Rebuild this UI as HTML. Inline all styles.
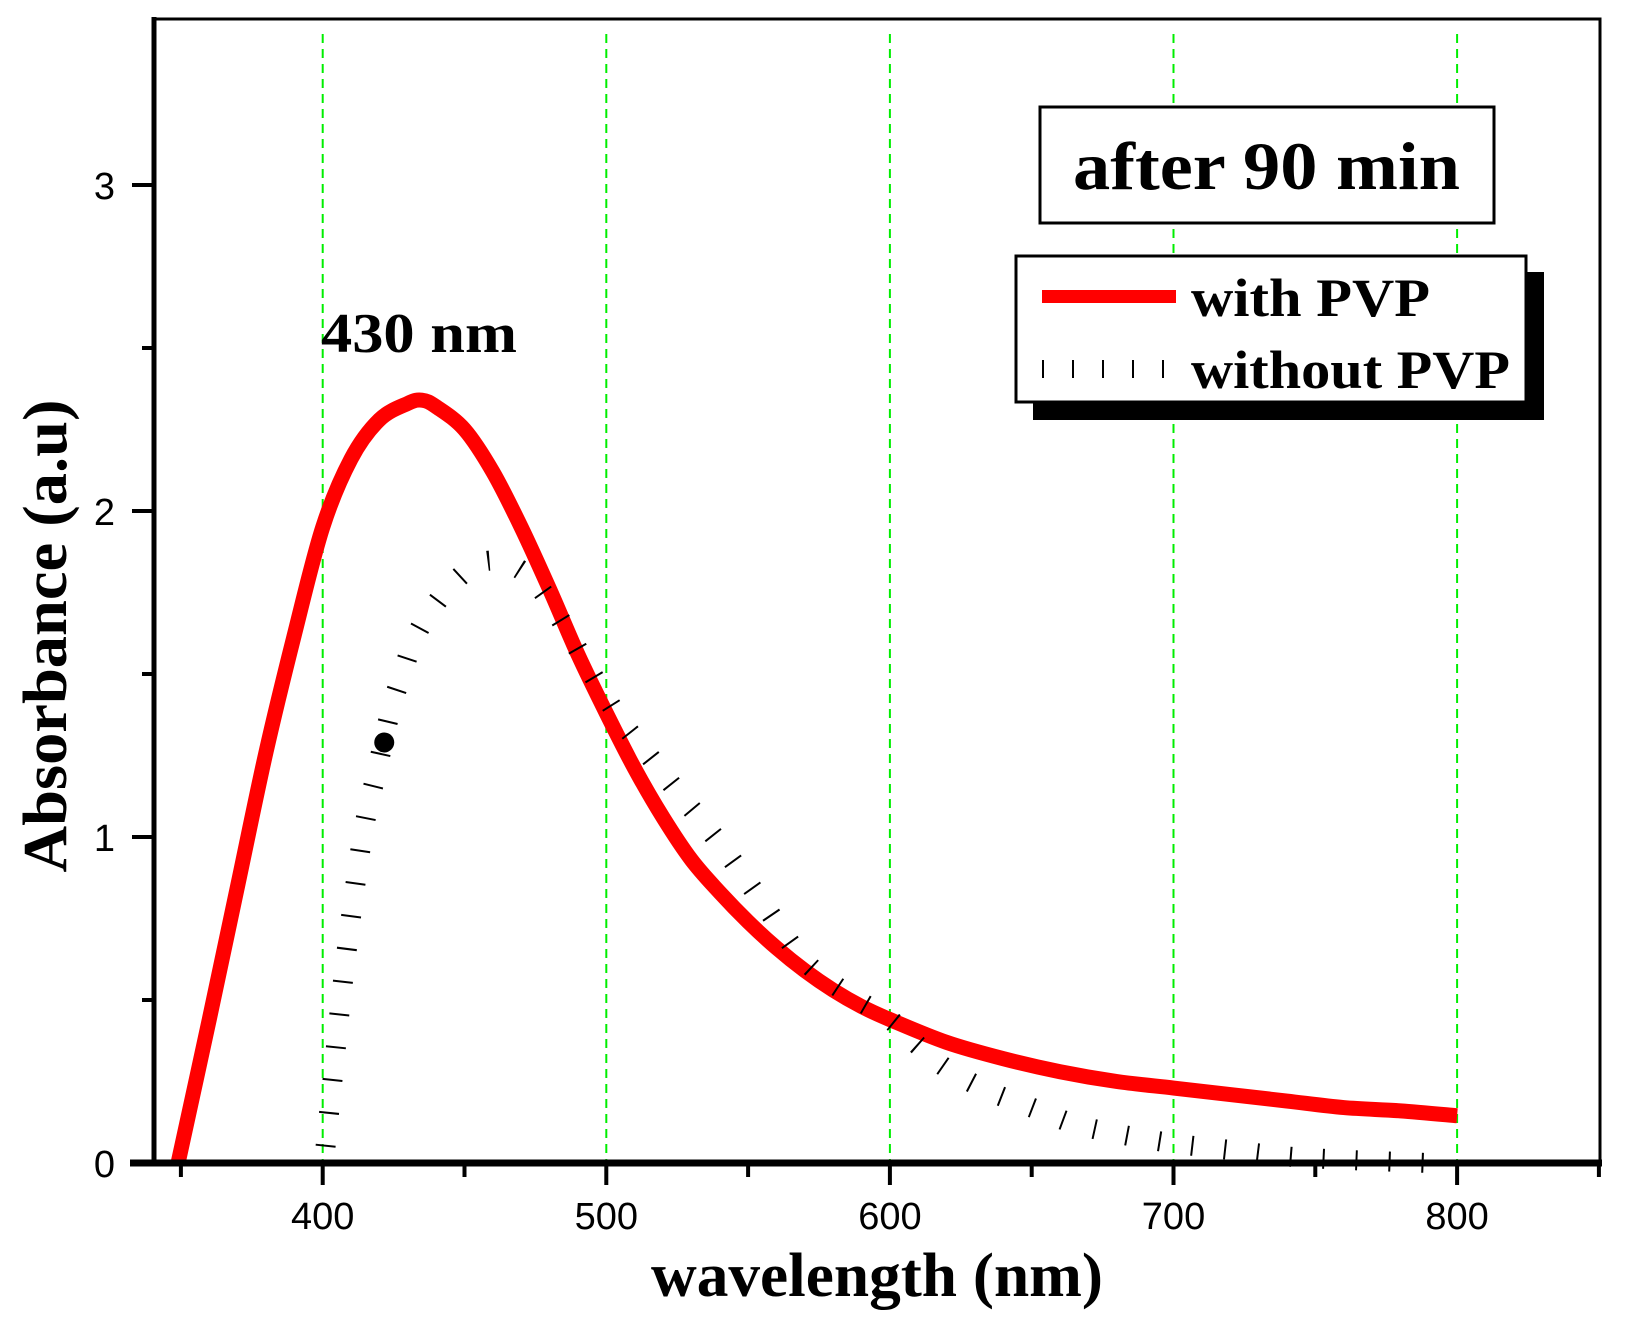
<!DOCTYPE html>
<html><head><meta charset="utf-8"><style>html,body{margin:0;padding:0;background:#fff}svg{display:block}</style></head>
<body>
<svg id="chart" width="1627" height="1323" viewBox="0 0 1627 1323" xmlns="http://www.w3.org/2000/svg">
<g id="grid"></g>
<g id="series"></g>
<g id="axes"></g>
<text x="321" y="352" font-family="Liberation Serif, serif" font-weight="bold" font-size="56" textLength="196" lengthAdjust="spacingAndGlyphs">430 nm</text>
<g>
<rect x="1040" y="107" width="454" height="116" fill="#fff" stroke="#000" stroke-width="3"/>
<text x="1073" y="189" font-family="Liberation Serif, serif" font-weight="bold" font-size="68" textLength="387" lengthAdjust="spacingAndGlyphs">after 90 min</text>
</g>
<g>
<rect x="1033" y="272" width="511" height="148" fill="#000"/>
<rect x="1016" y="256" width="510" height="146" fill="#fff" stroke="#000" stroke-width="3"/>
<rect x="1042" y="290" width="134" height="13" fill="#ff0000"/>
<text x="1191" y="316" font-family="Liberation Serif, serif" font-weight="bold" font-size="54" textLength="239" lengthAdjust="spacingAndGlyphs">with PVP</text>
<g stroke="#000" stroke-width="2">
<line x1="1043" y1="360" x2="1043" y2="378"/><line x1="1073" y1="360" x2="1073" y2="378"/><line x1="1103" y1="360" x2="1103" y2="378"/><line x1="1133" y1="360" x2="1133" y2="378"/><line x1="1163" y1="360" x2="1163" y2="378"/>
</g>
<text x="1191" y="388" font-family="Liberation Serif, serif" font-weight="bold" font-size="54" textLength="319" lengthAdjust="spacingAndGlyphs">without PVP</text>
</g>
<text transform="translate(66,636) rotate(-90)" text-anchor="middle" font-family="Liberation Serif, serif" font-weight="bold" font-size="62" textLength="473" lengthAdjust="spacingAndGlyphs">Absorbance (a.u)</text>
<text x="877" y="1296" text-anchor="middle" font-family="Liberation Serif, serif" font-weight="bold" font-size="62" textLength="452" lengthAdjust="spacingAndGlyphs">wavelength (nm)</text>
<script>
const xTicks = [400, 500, 600, 700, 800];
const xMinor = [350, 450, 550, 650, 750, 850];
const yTicks = [0, 1, 2, 3];
const yMinor = [0.5, 1.5, 2.5];
const withPvpX = [349,360,370,380,390,400,410,420,430,435,440,450,460,470,480,490,500,510,520,530,540,550,560,570,580,590,600,620,640,660,680,700,720,740,760,780,800];
const withPvpY = [0,0.44,0.85,1.26,1.62,1.95,2.16,2.28,2.33,2.34,2.32,2.25,2.12,1.95,1.76,1.56,1.38,1.21,1.06,0.93,0.83,0.74,0.66,0.59,0.53,0.48,0.44,0.37,0.32,0.28,0.25,0.23,0.21,0.19,0.17,0.16,0.145];
const withoutPvpX = [401,404,408,414,419,424,428,432,437,445,455,465,475,485,495,505,515,525,540,555,570,585,600,610,620,635,650,665,680,700,720,740,760,790];
const withoutPvpY = [0.05,0.3,0.62,1.0,1.2,1.39,1.5,1.6,1.68,1.77,1.84,1.84,1.78,1.65,1.5,1.36,1.25,1.14,0.98,0.8,0.62,0.52,0.44,0.36,0.29,0.22,0.17,0.12,0.09,0.06,0.04,0.02,0.01,0];
const dotX = [421.7];
const dotY = [1.29];

const NS = 'http://www.w3.org/2000/svg';
const X0 = 154, X1 = 1600, Y0 = 1163, Y1 = 19;
function xs(v){ return 322.7 + (v - 400) * 2.836; }
function ys(a){ return 1163 - a * 326; }
function mk(tag, attrs, parent){ const e = document.createElementNS(NS, tag); for (const k in attrs) e.setAttribute(k, attrs[k]); parent.appendChild(e); return e; }
function smoothPath(X, Y){
  const p = X.map((v,i)=>[xs(v), ys(Y[i])]);
  let d = 'M' + p[0][0] + ',' + p[0][1];
  for (let i = 0; i < p.length - 1; i++) {
    const p0 = p[Math.max(i-1,0)], p1 = p[i], p2 = p[i+1], p3 = p[Math.min(i+2,p.length-1)];
    const c1x = p1[0] + (p2[0]-p0[0])/6, c1y = p1[1] + (p2[1]-p0[1])/6;
    const c2x = p2[0] - (p3[0]-p1[0])/6, c2y = p2[1] - (p3[1]-p1[1])/6;
    d += ' C' + c1x + ',' + c1y + ' ' + c2x + ',' + c2y + ' ' + p2[0] + ',' + p2[1];
  }
  return d;
}
const grid = document.getElementById('grid'), series = document.getElementById('series'), axes = document.getElementById('axes');

xTicks.forEach(v => {
  const g = mk('line', {x1: xs(v), x2: xs(v), y1: 34, y2: Y0, stroke: '#00ee00', 'stroke-width': 2, 'stroke-dasharray': '9 6'}, grid);
  
  
});

const p1 = mk('path', {d: smoothPath(withPvpX, withPvpY), fill: 'none', stroke: '#ff0000', 'stroke-width': 15, 'stroke-linejoin': 'round'}, series);


const p2 = mk('path', {d: smoothPath(withoutPvpX, withoutPvpY), fill: 'none', stroke: '#000', 'stroke-width': 20, 'stroke-dasharray': '2 31'}, series);


dotX.forEach((v,i) => {
  const d = mk('circle', {cx: xs(v), cy: ys(dotY[i]), r: 10, fill: '#000'}, series);
  
  
});

const fr = mk('rect', {x: X0, y: Y1, width: X1 - X0, height: Y0 - Y1, fill: 'none', stroke: '#000', 'stroke-width': 3}, axes);


const xa = mk('line', {x1: 130, x2: X1 + 2, y1: Y0, y2: Y0, stroke: '#000', 'stroke-width': 7}, axes);


const ya = mk('line', {x1: X0, x2: X0, y1: Y1 - 2, y2: Y0 + 3, stroke: '#000', 'stroke-width': 5}, axes);



xTicks.forEach(v => {
  const t = mk('line', {x1: xs(v), x2: xs(v), y1: Y0, y2: Y0 + 22, stroke: '#000', 'stroke-width': 4}, axes);
  
  
  const l = mk('text', {x: xs(v), y: Y0 + 66, 'text-anchor': 'middle', 'font-family': 'Liberation Sans, sans-serif', 'font-size': 38}, axes);
  l.textContent = v;
  
  
});
xMinor.forEach(v => {
  const t = mk('line', {x1: xs(v), x2: xs(v), y1: Y0, y2: Y0 + 14, stroke: '#000', 'stroke-width': 4}, axes);
  
  
});
yTicks.forEach(a => {
  const t = mk('line', {x1: X0 - 22, x2: X0, y1: ys(a), y2: ys(a), stroke: '#000', 'stroke-width': 4}, axes);
  
  
  const l = mk('text', {x: 115, y: ys(a) + 14, 'text-anchor': 'end', 'font-family': 'Liberation Sans, sans-serif', 'font-size': 38}, axes);
  l.textContent = a;
  
  
});
yMinor.forEach(a => {
  const t = mk('line', {x1: X0 - 12, x2: X0, y1: ys(a), y2: ys(a), stroke: '#000', 'stroke-width': 4}, axes);
  
  
});
</script>
</svg>
</body></html>
